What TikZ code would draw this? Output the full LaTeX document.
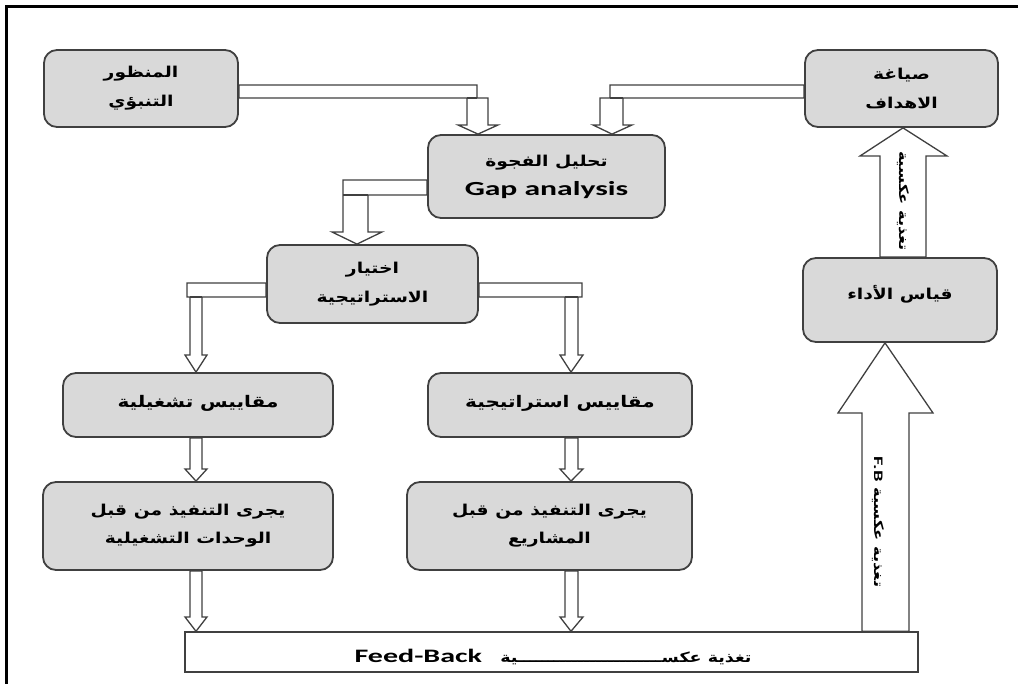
\documentclass[tikz,border=0pt]{standalone}
\usepackage{fontspec}
\TeXXeTstate=1
\newfontfamily\arabicfont[Script=Arabic,FakeStretch=1.25]{DejaVu Sans}
\newfontfamily\latfont[FakeStretch=1.58]{Carlito}
\newcommand{\ar}[1]{{\arabicfont\bfseries\beginR #1\endR}}
\newcommand{\la}[1]{{\latfont\bfseries #1}}
\definecolor{boxgray}{RGB}{217,217,217}
\definecolor{edge}{RGB}{64,64,64}
\pgfdeclarelayer{back}
\pgfsetlayers{back,main}
\begin{document}
\begin{tikzpicture}[x=1pt,y=-1pt,
  box/.style={draw=edge, fill=boxgray, line width=1.8pt, rounded corners=13pt,
    align=center, inner sep=0pt, font=\fontsize{15}{29}\selectfont},
  bar/.style={draw=edge, fill=white, line width=1.4pt, inner sep=0pt},
  conn/.style={draw=edge, fill=white, line width=1.3pt, line join=miter},
  connline/.style={draw=edge, line width=1.3pt},
  vlabel/.style={rotate=-90, inner sep=0pt, font=\fontsize{13}{15}\selectfont}]
\useasboundingbox (0,0) rectangle (1018,684);

% outer frame
\draw[line width=3pt] (6.5,684) -- (6.5,6.5) -- (1018,6.5);

% process boxes
\node[box, minimum width=194pt, minimum height=77pt] (pred) at (141,88.5)
  {\ar{المنظور}\\\ar{التنبؤي}};
\node[box, minimum width=193pt, minimum height=77pt] (goals) at (901.5,88.5)
  {\ar{صياغة}\\\ar{الاهداف}};
\node[box, minimum width=237pt, minimum height=83pt] (gap) at (546.5,176.5)
  {\ar{تحليل الفجوة}\\\la{\fontsize{20}{24}\selectfont Gap analysis}};
\node[box, minimum width=211pt, minimum height=78pt] (strat) at (372.5,284)
  {\ar{اختيار}\\\ar{الاستراتيجية}};
\node[box, minimum width=270pt, minimum height=64pt] (opm) at (198,405)
  {\raisebox{7pt}{\fontsize{16}{20}\selectfont\ar{مقاييس تشغيلية}}};
\node[box, minimum width=264pt, minimum height=64pt] (stm) at (560,405)
  {\raisebox{7pt}{\fontsize{16}{20}\selectfont\ar{مقاييس استراتيجية}}};
\node[box, minimum width=290pt, minimum height=88pt] (exl) at (188,526)
  {\ar{يجرى التنفيذ من قبل}\\[-1pt]\ar{الوحدات التشغيلية}};
\node[box, minimum width=285pt, minimum height=88pt] (exr) at (549.5,526)
  {\ar{يجرى التنفيذ من قبل}\\[-1pt]\ar{المشاريع}};
\node[box, minimum width=194pt, minimum height=84pt] (perf) at (900,300)
  {\raisebox{15pt}{\ar{قياس الأداء}}};

% feedback bar
\node[bar, minimum width=733pt, minimum height=40pt] (fb) at (551.5,652) {};
\node[inner sep=0pt] (fbtext) at (553,657)
  {\fontsize{14}{16}\selectfont\ar{تغذية عكســــــــــــــــــــــــية\ \ \ \beginL\la{\fontsize{19}{21}\selectfont Feed-Back}\endL}};

\begin{pgfonlayer}{back}
% prospective view -> gap analysis
\draw[conn] (pred.east |- 0,85) -- (477,85) -- (477,98) -- (488,98) -- (488,125)
  -- (498,125) -- (478,0 |- gap.north) -- (458,125) -- (467,125) -- (467,98)
  -- (pred.east |- 0,98) -- cycle;
\draw[connline] (467,98) -- (477,98);
% objectives -> gap analysis
\draw[conn] (goals.west |- 0,85) -- (610,85) -- (610,98) -- (600,98) -- (600,125)
  -- (593,125) -- (612,0 |- gap.north) -- (632,125) -- (623,125) -- (623,98)
  -- (goals.west |- 0,98) -- cycle;
\draw[connline] (610,98) -- (623,98);
% gap analysis -> strategy choice
\draw[conn] (gap.west |- 0,180) -- (343,180) -- (343,232) -- (332,232)
  -- (357,0 |- strat.north) -- (382,232) -- (368,232) -- (368,195)
  -- (gap.west |- 0,195) -- cycle;
\draw[connline] (343,195) -- (368,195);
% strategy choice -> operational measures
\draw[conn] (strat.west |- 0,283) -- (187,283) -- (187,297) -- (190,297) -- (190,355)
  -- (185,355) -- (196,0 |- opm.north) -- (207,355) -- (202,355) -- (202,297)
  -- (strat.west |- 0,297) -- cycle;
\draw[connline] (190,297) -- (202,297);
% strategy choice -> strategic measures
\draw[conn] (strat.east |- 0,283) -- (582,283) -- (582,297) -- (578,297) -- (578,355)
  -- (583,355) -- (571,0 |- stm.north) -- (560,355) -- (565,355) -- (565,297)
  -- (strat.east |- 0,297) -- cycle;
\draw[connline] (565,297) -- (578,297);
% measures -> execution
\draw[conn] (190,0 |- opm.south) -- (190,469) -- (185,469) -- (196,0 |- exl.north)
  -- (207,469) -- (202,469) -- (202,0 |- opm.south) -- cycle;
\draw[conn] (565,0 |- stm.south) -- (565,469) -- (560,469) -- (571,0 |- exr.north)
  -- (583,469) -- (578,469) -- (578,0 |- stm.south) -- cycle;
% execution -> feedback bar
\draw[conn] (190,0 |- exl.south) -- (190,617) -- (185,617) -- (196,0 |- fb.north)
  -- (207,617) -- (202,617) -- (202,0 |- exl.south) -- cycle;
\draw[conn] (565,0 |- exr.south) -- (565,617) -- (560,617) -- (571,0 |- fb.north)
  -- (583,617) -- (578,617) -- (578,0 |- exr.south) -- cycle;
% feedback bar -> performance measurement
\draw[conn] (862,0 |- fb.north) -- (862,413) -- (838,413) -- (885,0 |- perf.south)
  -- (933,413) -- (909,413) -- (909,0 |- fb.north) -- cycle;
% performance measurement -> objectives
\draw[conn] (880,0 |- perf.north) -- (880,156) -- (860,156) -- (903,0 |- goals.south)
  -- (947,156) -- (926,156) -- (926,0 |- perf.north) -- cycle;
\end{pgfonlayer}

% labels inside the feedback arrows
\node[vlabel] (fblow) at (878,522) {\ar{تغذية عكسية \beginL\la{F.B}\endL}};
\node[vlabel] (fbup) at (903,201) {\ar{تغذية عكسية}};
\end{tikzpicture}
\end{document}
